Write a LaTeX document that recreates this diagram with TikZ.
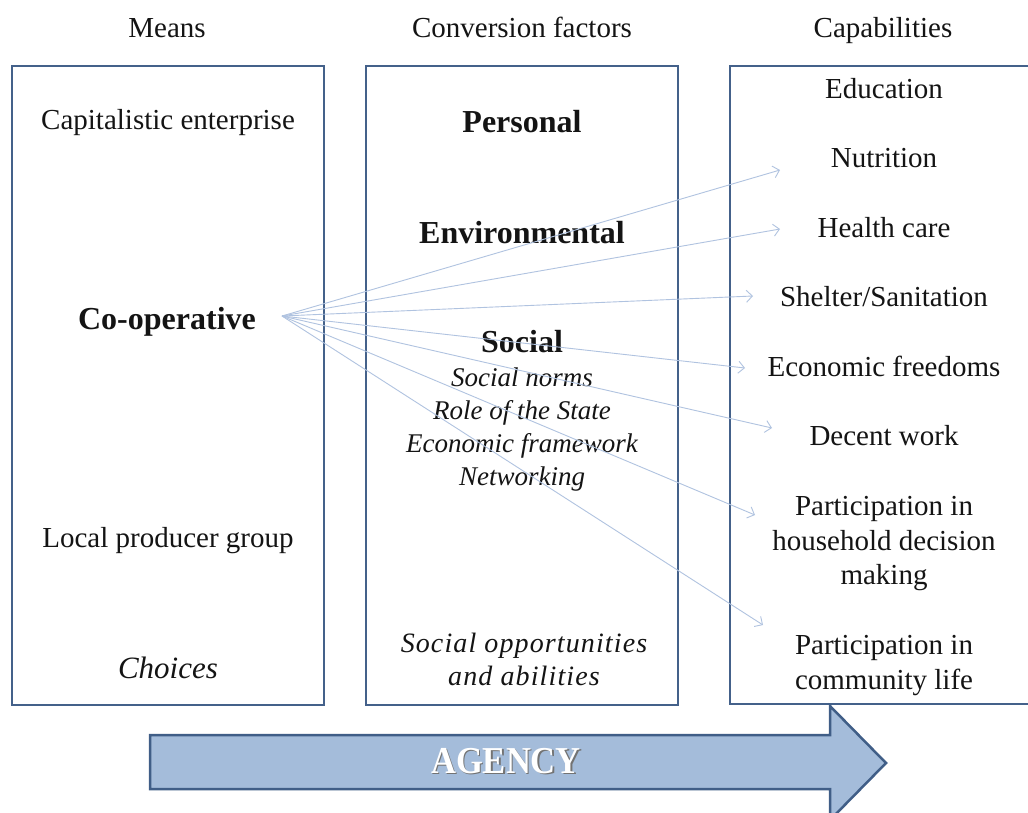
\documentclass[tikz,border=0pt]{standalone}
\usepackage{fontspec}
\setmainfont{Liberation Serif}
\newfontfamily\spacedfam[LetterSpace=4]{Liberation Serif}
\usetikzlibrary{arrows.meta}
\definecolor{boxblue}{RGB}{68,97,138}
\definecolor{lineblue}{RGB}{176,195,224}
\definecolor{agencyfill}{RGB}{164,188,218}
\definecolor{agencyedge}{RGB}{64,94,135}
\definecolor{inkgray}{RGB}{20,20,20}
\begin{document}
\begin{tikzpicture}[x=1pt,y=-1pt,
  txt/.style={anchor=base, inner sep=0pt, text=inkgray, font=\fontsize{29}{34}\selectfont},
  bld/.style={txt, font=\fontsize{32}{36}\selectfont\bfseries},
  itl/.style={txt, font=\fontsize{27}{33}\selectfont\itshape},
  panel/.style={draw=boxblue, line width=2.5pt, minimum width=312pt, minimum height=639pt, inner sep=0pt},
  link/.style={draw=lineblue, line width=0.9pt, -{Straight Barb[length=6pt,width=12pt]}},
  agency/.style={anchor=base, inner sep=0pt, font=\fontsize{38}{40}\selectfont\bfseries, xscale=0.91}
]
\useasboundingbox (0,0) rectangle (1028,812);
\clip (0,0) rectangle (1028,812);
\fill[white] (0,0) rectangle (1028,812);

% column headings
\node[txt] (hmeans) at (167,37) {Means};
\node[txt] (hconv)  at (522,37) {Conversion factors};
\node[txt] (hcap)   at (883,37) {Capabilities};

% the three panels
\node[panel] (meansbox) at (168,385.5) {};
\node[panel] (convbox)  at (522,385.5) {};
\draw[draw=boxblue, line width=2.5pt] (1040,66) -| (730,704) -- (1040,704);

% means
\node[txt] (capent) at (168,129) {Capitalistic enterprise};
\node[bld] (coop)   at (167,329) {Co-operative};
\node[txt] (lpg)    at (168,547) {Local producer group};
\node[itl, font=\fontsize{31}{34}\selectfont\itshape] (choices) at (168,678) {Choices};

% conversion factors
\node[bld] (personal) at (522,132) {Personal};
\node[bld] (envir)    at (522,243) {Environmental};
\node[bld] (social)   at (522,352) {Social};
\node[itl] (norms)    at (522,386) {Social norms};
\node[itl] (state)    at (522,419) {Role of the State};
\node[itl] (econfw)   at (522,452) {Economic framework};
\node[itl] (netw)     at (522,485) {Networking};
\node[txt, font=\fontsize{28}{34}\selectfont\spacedfam\itshape] (opp1) at (524,652) {Social opportunities};
\node[txt, font=\fontsize{28}{34}\selectfont\spacedfam\itshape] (opp2) at (524,685) {and abilities};

% capabilities
\node[txt] (educ)    at (884,98)  {Education};
\node[txt] (nutr)    at (884,167) {Nutrition};
\node[txt] (health)  at (884,237) {Health care};
\node[txt] (shelter) at (884,306) {Shelter/Sanitation};
\node[txt] (econfr)  at (884,376) {Economic freedoms};
\node[txt] (decent)  at (884,445) {Decent work};
\node[txt] (hh1)     at (884,515) {Participation in};
\node[txt] (hh2)     at (884,550) {household decision};
\node[txt] (hh3)     at (884,584) {making};
\node[txt] (cl1)     at (884,654) {Participation in};
\node[txt] (cl2)     at (884,689) {community life};

% links from the co-operative to the capabilities
\coordinate (src)    at (282,316);
\coordinate (tnutr)  at (780,170);
\coordinate (thealth) at (780,229);
\coordinate (tshelt) at (753,296);
\coordinate (tecon)  at (745,368);
\coordinate (tdec)   at (772,428);
\coordinate (thh)    at (755,515);
\coordinate (tcl)    at (763,625);
\foreach \t in {tnutr,thealth,tshelt,tecon,tdec,thh,tcl}
  \draw[link] (src) -- (\t);

% agency arrow
\draw[fill=agencyfill, draw=agencyedge, line width=2.5pt, line join=miter]
  (150,735) -- (830,735) -- (830,706) -- (886,763) -- (830,820) -- (830,789) -- (150,789) -- cycle;
\node[agency, text=black!55] (agshadow) at (507.5,774.5) {AGENCY};
\node[agency, text=white] (agtext) at (506,773) {AGENCY};
\end{tikzpicture}
\end{document}
